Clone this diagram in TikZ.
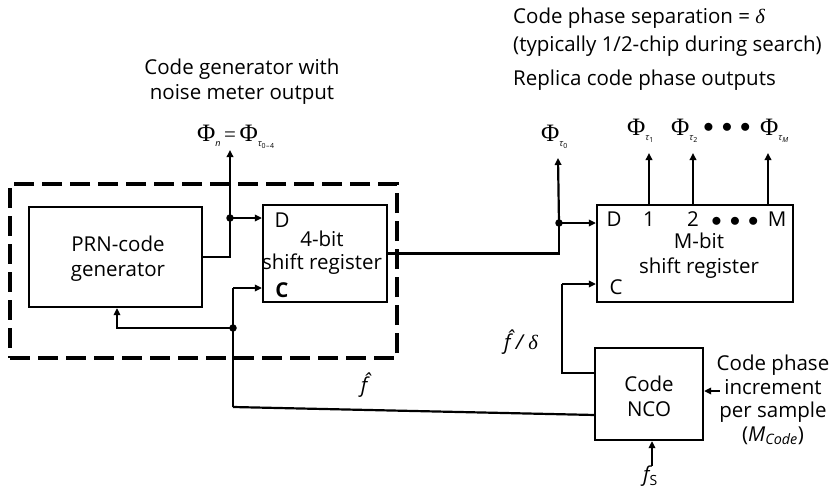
\documentclass[tikz,border=0pt]{standalone}
\usepackage{fontspec}
\setmainfont{Open Sans}
\newfontfamily\tmsfont{Liberation Serif}
\usetikzlibrary{arrows.meta,calc}
\newcommand{\myphi}[2]{{\fontsize{25}{25}\selectfont\tmsfont Φ}\raisebox{-5pt}{\fontsize{9}{9}\selectfont\itshape #1\raisebox{-2pt}{\fontsize{7}{7}\selectfont\upshape #2}}}
\begin{document}
\begin{tikzpicture}[x=1pt,y=-1pt,
  wire/.style={line width=2.2pt},
  arr/.style={wire,-{Triangle[length=7pt,width=6.5pt]}},
  blk/.style={draw,line width=2.2pt,rectangle,inner sep=0pt},
  dot/.style={circle,fill,inner sep=0pt,minimum size=7.5pt},
  lbl/.style={font=\fontsize{20.5}{25}\selectfont,inner sep=0pt},
  mth/.style={font=\fontsize{21}{24}\selectfont,inner sep=0pt,anchor=base west}]
\useasboundingbox (0,0) rectangle (839,490);
% dashed group
\node[draw,line width=3.8pt,dash pattern=on 20pt off 8pt,minimum width=387pt,minimum height=174pt,inner sep=0pt] (grp) at (203.5,271) {};
% blocks
\node[blk,minimum width=173pt,minimum height=100pt] (prn) at (115.5,257) {};
\node[lbl,align=center] (prnt) at (118,259) {PRN-code\\generator};
\node[blk,minimum width=124pt,minimum height=97pt] (sr4) at (325,253.5) {};
\node[lbl,align=center] (sr4t) at (322,253) {4-bit\\[-2pt]shift register};
\node[lbl] (sr4d) at (282,220) {D};
\node[lbl] (sr4c) at (282,290) {\textbf{C}};
\node[blk,minimum width=196pt,minimum height=97pt] (srm) at (695,253.5) {};
\node[lbl] (srmd) at (614,219) {D};
\node[lbl] (srm1) at (649,219) {1};
\node[lbl] (srm2) at (693,219) {2};
\node[lbl] (srmdots) at (735,222) {$\bullet\,\bullet\,\bullet$};
\node[lbl] (srmM) at (777,219) {M};
\node[lbl,align=center] (srmt) at (699,256) {M-bit\\shift register};
\node[lbl] (srmc) at (616,287) {C};
\node[blk,minimum width=108pt,minimum height=92pt] (nco) at (649,394) {};
\node[lbl,align=center] (ncot) at (649,396) {Code\\NCO};
% coordinates
\coordinate (j1) at (230,218);
\coordinate (phin) at (230,150);
\coordinate (j2) at (233,328);
\coordinate (c4) at (233,288);
\coordinate (cbot) at (233,407);
\coordinate (ncoin) at (595,415);
\coordinate (prnin) at (117,328);
\coordinate (j3) at (559,223);
\coordinate (phi0) at (558,158);
\coordinate (o1) at (649,153);
\coordinate (o2) at (693,153);
\coordinate (oM) at (768,153);
\coordinate (ncoc) at (595,373);
\coordinate (bend) at (562,284);
\coordinate (incr) at (720,391);
\coordinate (fs) at (652,466);
% wires
\draw[wire] (prn.east) -| (j1);
\draw[arr] (j1) -- (sr4.west |- j1);
\draw[arr] (j1) -- (phin);
\draw[wire] (cbot) -- (j2);
\draw[wire] (j2) -- (c4);
\draw[arr] (c4) -- (sr4.west |- c4);
\draw[arr] (j2) -| (prn.south -| prnin);
\draw[wire] (cbot) -- (ncoin);
\draw[wire] (sr4.east) -| (j3);
\draw[arr] (j3) -- (srm.west |- j3);
\draw[arr] (j3) -- (phi0);
\draw[arr] (srm.north -| o1) -- (o1);
\draw[arr] (srm.north -| o2) -- (o2);
\draw[arr] (srm.north -| oM) -- (oM);
\draw[wire] (ncoc) -| (bend);
\draw[arr] (bend) -- (srm.west |- bend);
\draw[arr] (incr) -- (nco.east |- incr);
\draw[arr] (fs) -- (fs |- nco.south);
\node[dot] at (j1) {};
\node[dot] at (j2) {};
\node[dot] at (j3) {};
% labels
\node[lbl,align=center] (cgt) at (242,82) {Code generator with\\noise meter output};
\node[mth] (phinl) at (197,141) {\myphi{n}{\strut}\,{\tmsfont =}\,\myphi{τ}{0\kern0.5pt–\kern0.5pt4}};
\node[mth] (phi0l) at (541,141) {\myphi{τ}{0}};
\node[mth] (phi1l) at (627,135) {\myphi{τ}{1}};
\node[mth] (phi2l) at (671,135) {\myphi{τ}{2}};
\node[font=\fontsize{21}{24}\selectfont,inner sep=0pt] (dotsl) at (727,128) {$\bullet\,\bullet\,\bullet$};
\node[mth] (phiMl) at (760,135) {\myphi{τ}{\itshape M}};
\node[lbl,anchor=west,align=left] (sep) at (513,32) {Code phase separation = {\tmsfont\itshape δ}\\[3pt](typically 1/2-chip during search)};
\node[lbl,anchor=west] (rep) at (513,80) {Replica code phase outputs};
\node[lbl] (fhat) at (364,385) {\itshape\^{f}};
\node[lbl] (fhd) at (521,342) {\itshape\^{f} / {\tmsfont δ}};
\node[lbl,align=center,font=\fontsize{20.5}{23.5}\selectfont] (incl) at (773,400) {Code phase\\increment\\per sample\\({\itshape M}\textsubscript{\itshape Code})};
\node[lbl,anchor=base west] (fsl) at (643,481) {\itshape f\raisebox{-4pt}{\fontsize{14}{14}\selectfont\upshape S}};
\end{tikzpicture}
\end{document}
